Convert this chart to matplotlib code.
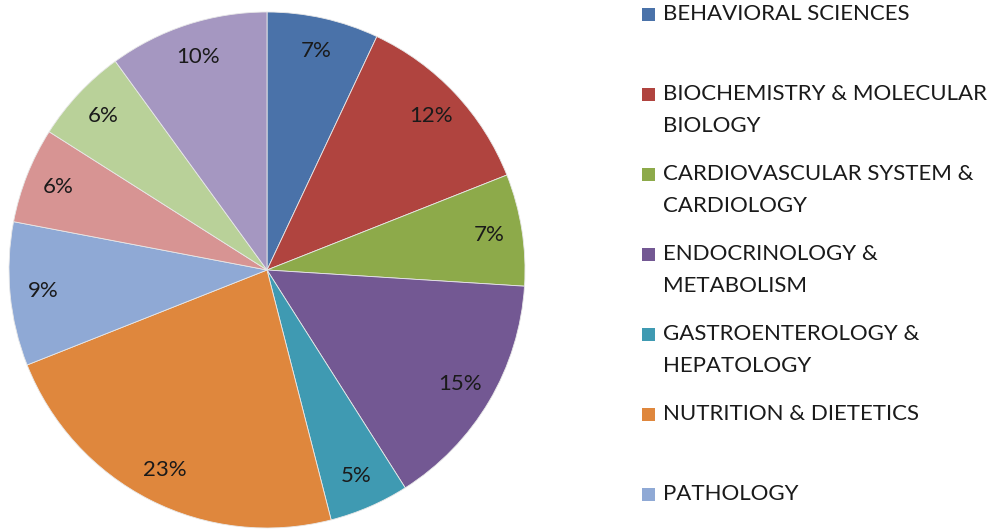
import matplotlib.pyplot as plt
from matplotlib.patches import Rectangle

plt.rcParams['font.family'] = ['Lato', 'DejaVu Sans']

# slice shares (%), clockwise from 12 o'clock
values = [7, 12, 7, 15, 5, 23, 9, 6, 6, 10]
colors = ['#4A72A9', '#B0443F', '#8DAA4A', '#735893', '#3F9AB2',
          '#DF873D', '#8FA9D5', '#D79493', '#B9D199', '#A597C1']
# legend entries visible in the original (it is cut off after PATHOLOGY)
legend_labels = ['BEHAVIORAL SCIENCES',
                 'BIOCHEMISTRY & MOLECULAR\nBIOLOGY',
                 'CARDIOVASCULAR SYSTEM &\nCARDIOLOGY',
                 'ENDOCRINOLOGY &\nMETABOLISM',
                 'GASTROENTEROLOGY &\nHEPATOLOGY',
                 'NUTRITION & DIETETICS',
                 'PATHOLOGY']

W, H = 1003, 530
fig = plt.figure(figsize=(W / 100, H / 100), dpi=100)

# pie: centre ~(267, 270) px, radius ~258 px
cx, cy, r = 267, 270, 258
ax = fig.add_axes([(cx - r) / W, (H - cy - r) / H, 2 * r / W, 2 * r / H])
wedges, texts, autotexts = ax.pie(values, colors=colors, startangle=90, counterclock=False,
                                  autopct='%d%%', pctdistance=0.87, radius=1,
                                  wedgeprops=dict(edgecolor='#e8e8e8', linewidth=0.6),
                                  textprops=dict(fontsize=16, color='#1a1a1a'))
ax.set_xlim(-1, 1)
ax.set_ylim(-1, 1)
ax.set_aspect('equal')
ax.axis('off')

# legend drawn by hand so the marker lines up with the first text line
for i, lab in enumerate(legend_labels):
    ypx = 14 + 80 * i
    fig.patches.append(Rectangle((642 / W, 1 - (ypx + 6.5) / H), 13 / W, 13 / H,
                                 transform=fig.transFigure, facecolor=colors[i],
                                 edgecolor='none'))
    fig.text(663 / W, 1 - (ypx - 10) / H, lab, fontsize=16, color='#1a1a1a',
             va='top', ha='left', linespacing=1.75)

fig.savefig('out.png', dpi=100)
